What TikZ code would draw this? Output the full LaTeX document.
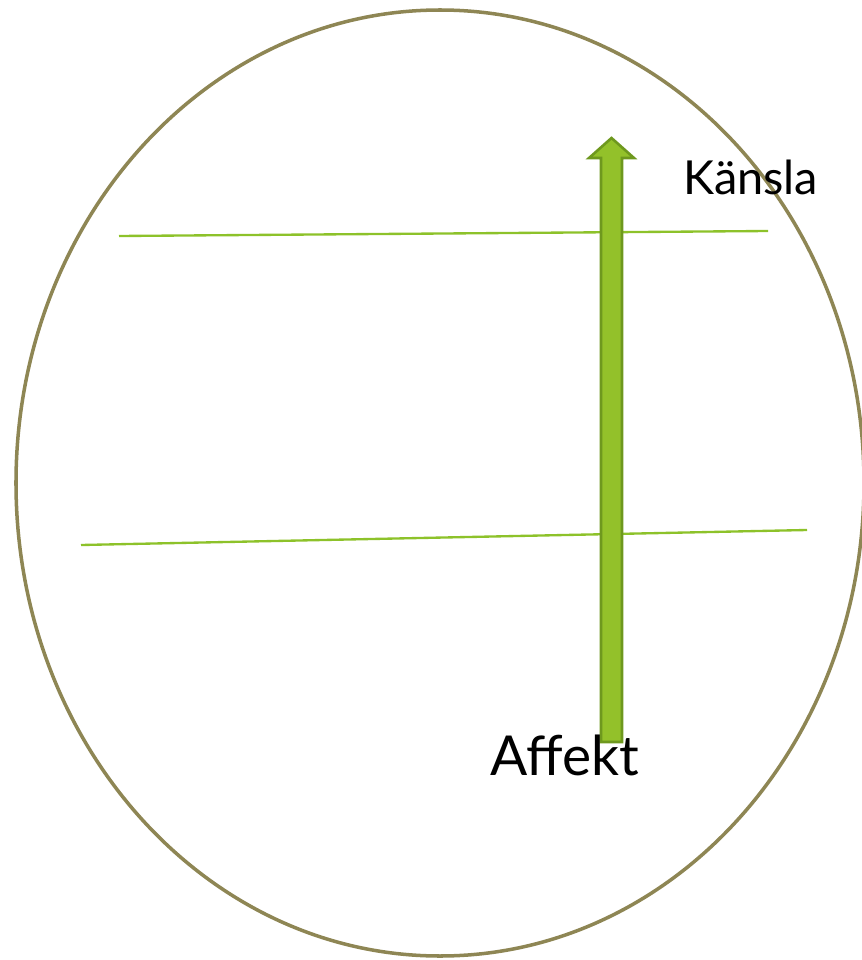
\documentclass[tikz,border=0pt]{standalone}
\usepackage{fontspec}
\setmainfont{Lato}

\definecolor{rim}{HTML}{8E8654}
\definecolor{leaf}{HTML}{8DC22A}
\definecolor{leafdark}{HTML}{6E981E}
\definecolor{leaffill}{HTML}{93C12A}

\begin{document}
\begin{tikzpicture}[x=0.03cm, y=-0.03cm, every node/.style={align=center, inner sep=0pt}]
        \useasboundingbox (0,0) rectangle (861,960);

        % Ellipse
        \draw[rim, line width=3pt] (440,483) ellipse [x radius=424, y radius=473];

        % Lines
        \coordinate (upperL) at (119,236);
        \coordinate (upperR) at (768,231);
        \coordinate (lowerL) at (81,545);
        \coordinate (lowerR) at (807,530);
        \draw[leaf, line width=2pt] (upperL) -- (upperR);
        \draw[leaf, line width=2pt] (lowerL) -- (lowerR);

        % Arrow
        \coordinate (tip) at (611.5,138);
        \draw[leafdark, fill=leaffill, line width=2.2pt, line join=miter]
            (601,742) -- (601,158) -- (589,158) -- (tip) -- (634,158)
            -- (622,158) -- (622,742) -- cycle;

        % Labels
        \node[anchor=base west, font=\fontsize{40}{44}\selectfont] (kansla) at (683,195) {Känsla};
        \node[anchor=base west, font=\fontsize{47}{50}\selectfont] (affekt) at (490,775) {Affekt};

    \end{tikzpicture}
\end{document}
